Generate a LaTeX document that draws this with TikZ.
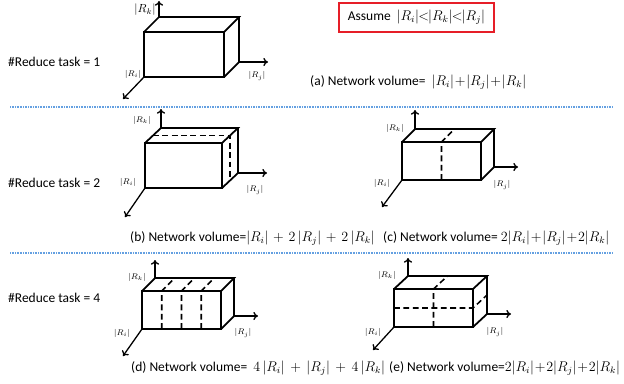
\documentclass[tikz,border=0pt]{standalone}
\usepackage{amsmath, amssymb}
\usepackage{fontspec}
\setmainfont{Carlito}
\usepackage{tikz}
\usetikzlibrary{arrows.meta, positioning, calc}
\tikzstyle{axis} = [line width=1.1pt, -{To[length=4pt, width=7pt]}]
\newcommand\tightmath{\medmuskip=1mu\relax\thickmuskip=2mu\relax}

\begin{document}
\begin{tikzpicture}[
	x=0.03cm, y=-0.03cm,
	every node/.style={font=\fontsize{11.5}{13}\selectfont\tightmath, inner sep=0pt},
	cube/.style={line width=1.5pt, line join=miter},
	split/.style={line width=1.3pt, dash pattern=on 5pt off 3pt},
	lab/.style={font=\fontsize{7}{8}\selectfont},
	sep/.style={draw={rgb,255:red,100;green,160;blue,225}, line width=0.9pt, dash pattern=on 0.7pt off 0.7pt},
	assume/.style={draw={rgb,255:red,230;green,30;blue,40}, line width=1.3pt, minimum width=4.65cm, minimum height=0.87cm}
]
\useasboundingbox (0,0) rectangle (624,383);

% Assumption
\node[assume] (assume) at (416.5,17.5) {Assume \ $|R_i|\!<\!|R_k|\!<\!|R_j|$};

% Row separators
\coordinate (s1l) at (10,107); \coordinate (s1r) at (612,107);
\coordinate (s2l) at (10,253); \coordinate (s2r) at (612,253);
\draw[sep] (s1l) -- (s1r);
\draw[sep] (s2l) -- (s2r);

% Row titles
\node[anchor=west] (task1) at (8,62) {\#Reduce task = 1};
\node[anchor=west] (task2) at (8,183) {\#Reduce task = 2};
\node[anchor=west] (task4) at (8,298) {\#Reduce task = 4};

% Cube (a): one reduce task
\coordinate (aF) at (144,77); \coordinate (aT) at (224,32);
\coordinate (aB) at (159,17); \coordinate (aR) at (239,62);
\coordinate (aK) at (159,1); \coordinate (aJ) at (268,62); \coordinate (aI) at (123,99);
\draw[axis] (aB) -- (aK);
\draw[axis] (aR) -- (aJ);
\draw[axis] (aF) -- (aI);
\draw[cube] (aF) rectangle (aT);
\draw[cube] (aF |- aT) -- (aB) -- (aR |- aB) -- (aT);
\draw[cube] (aR |- aB) -- (aR) -- (aT |- aF);
\node[font=\fontsize{10}{12}\selectfont] (aLk) at (145,10) {$|R_k|$};
\node[lab] (aLi) at (133,74) {$|R_i|$};
\node[lab] (aLj) at (257,76) {$|R_j|$};
\node[anchor=west] (capA) at (310,82) {(a) Network volume= \ $|R_i|+|R_j|+|R_k|$};

% Cube (b): two reduce tasks, split in depth
\coordinate (bF) at (145,188); \coordinate (bT) at (222,143);
\coordinate (bB) at (161,128); \coordinate (bR) at (238,173);
\coordinate (bK) at (161,109); \coordinate (bJ) at (267,173); \coordinate (bI) at (125,217);
\draw[axis] (bB) -- (bK);
\draw[axis] (bR) -- (bJ);
\draw[axis] (bF) -- (bI);
\draw[cube] (bF) rectangle (bT);
\draw[cube] (bF |- bT) -- (bB) -- (bR |- bB) -- (bT);
\draw[cube] (bR |- bB) -- (bR) -- (bT |- bF);
\draw[split] ($(bF |- bT)!.5!(bB)$) -- ($(bT)!.5!(bR |- bB)$) -- ($(bT |- bF)!.5!(bR)$);
\node[lab] (bLk) at (142,120) {$|R_k|$};
\node[lab] (bLi) at (128,182) {$|R_i|$};
\node[lab] (bLj) at (255,190) {$|R_j|$};
\node[anchor=west] (capB) at (130,238) {(b) Network volume=\medmuskip=6mu$|R_i|+2\,|R_j|+2\,|R_k|$};

% Cube (c): two reduce tasks, split in width
\coordinate (cF) at (402,180); \coordinate (cT) at (481,142);
\coordinate (cB) at (415,129); \coordinate (cR) at (494,167);
\coordinate (cK) at (415,110); \coordinate (cJ) at (518,167); \coordinate (cI) at (382,207);
\draw[axis] (cB) -- (cK);
\draw[axis] (cR) -- (cJ);
\draw[axis] (cF) -- (cI);
\draw[cube] (cF) rectangle (cT);
\draw[cube] (cF |- cT) -- (cB) -- (cR |- cB) -- (cT);
\draw[cube] (cR |- cB) -- (cR) -- (cT |- cF);
\draw[split] ($(cF)!.5!(cT |- cF)$) -- ($(cF |- cT)!.5!(cT)$) -- ($(cB)!.5!(cR |- cB)$);
\node[lab] (cLk) at (395,128) {$|R_k|$};
\node[lab] (cLi) at (382,183) {$|R_i|$};
\node[lab] (cLj) at (502,185) {$|R_j|$};
\node[anchor=west] (capC) at (383,238) {(c) Network volume= $2|R_i|+|R_j|+2|R_k|$};

% Cube (d): four reduce tasks, split in width
\coordinate (dF) at (142,329); \coordinate (dT) at (221,291);
\coordinate (dB) at (155,278); \coordinate (dR) at (234,316);
\coordinate (dK) at (155,260); \coordinate (dJ) at (258,316); \coordinate (dI) at (123,356);
\draw[axis] (dB) -- (dK);
\draw[axis] (dR) -- (dJ);
\draw[axis] (dF) -- (dI);
\draw[cube] (dF) rectangle (dT);
\draw[cube] (dF |- dT) -- (dB) -- (dR |- dB) -- (dT);
\draw[cube] (dR |- dB) -- (dR) -- (dT |- dF);
\foreach \t in {0.25, 0.5, 0.75}
	\draw[split] ($(dF)!\t!(dT |- dF)$) -- ($(dF |- dT)!\t!(dT)$) -- ($(dB)!\t!(dR |- dB)$);
\node[lab] (dLk) at (137,277) {$|R_k|$};
\node[lab] (dLi) at (122,333) {$|R_i|$};
\node[lab] (dLj) at (243,333) {$|R_j|$};
\node[anchor=west] (capD) at (131,368) {(d) Network volume= \ \medmuskip=7mu$4\,|R_i|+|R_j|+4\,|R_k|$};

% Cube (e): four reduce tasks, split in width and height
\coordinate (eF) at (394,327); \coordinate (eT) at (473,289);
\coordinate (eB) at (408,276); \coordinate (eR) at (487,314);
\coordinate (eK) at (408,258); \coordinate (eJ) at (511,314); \coordinate (eI) at (373,350);
\draw[axis] (eB) -- (eK);
\draw[axis] (eR) -- (eJ);
\draw[axis] (eF) -- (eI);
\draw[cube] (eF) rectangle (eT);
\draw[cube] (eF |- eT) -- (eB) -- (eR |- eB) -- (eT);
\draw[cube] (eR |- eB) -- (eR) -- (eT |- eF);
\draw[split] ($(eF)!.5!(eT |- eF)$) -- ($(eF |- eT)!.5!(eT)$) -- ($(eB)!.5!(eR |- eB)$);
\draw[split] ($(eF)!.5!(eF |- eT)$) -- ($(eT |- eF)!.5!(eT)$) -- ($(eR)!.5!(eR |- eB)$);
\node[lab] (eLk) at (387,275) {$|R_k|$};
\node[lab] (eLi) at (373,332) {$|R_i|$};
\node[lab] (eLj) at (495,332) {$|R_j|$};
\node[anchor=west] (capE) at (389,368) {(e) Network volume=$2|R_i|+2|R_j|+2|R_k|$};

\end{tikzpicture}
\end{document}
